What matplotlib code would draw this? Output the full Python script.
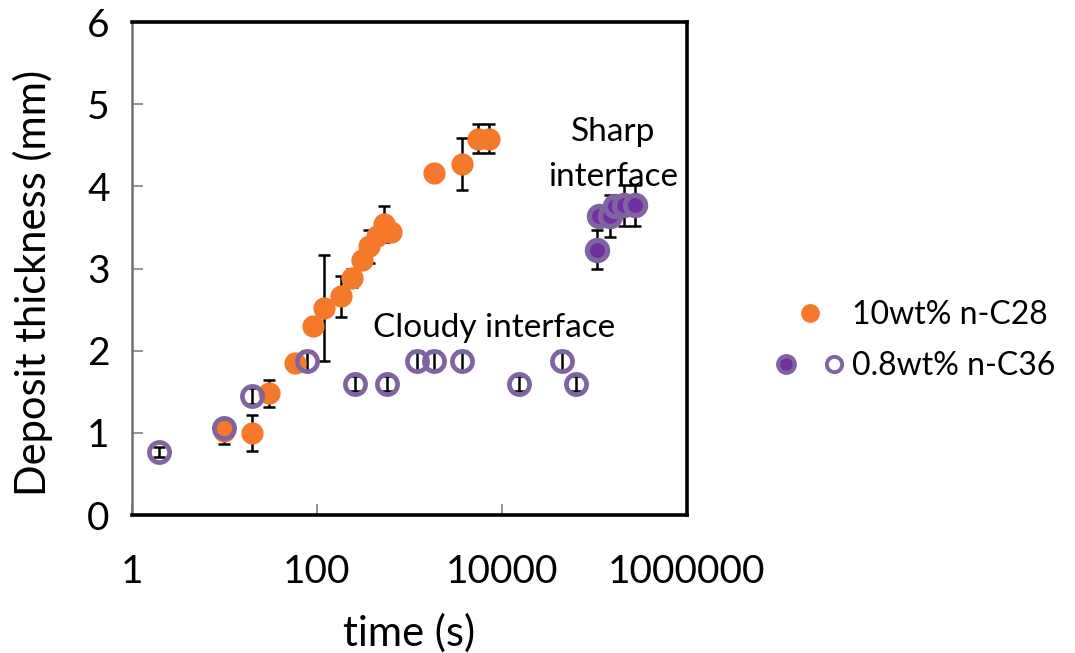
import matplotlib
matplotlib.use("Agg")
import matplotlib.pyplot as plt
from matplotlib.lines import Line2D
from matplotlib.legend_handler import HandlerTuple

plt.rcParams['font.family'] = ['Lato', 'DejaVu Sans']

# 10wt% n-C28 deposit
t_c28 = [9.8, 19.7, 30, 58.5, 90, 120, 180, 239, 307, 367, 446, 534, 626, 1827, 3656, 5510, 7260]
h_c28 = [1.02, 1.00, 1.48, 1.85, 2.30, 2.52, 2.66, 2.89, 3.10, 3.27, 3.39, 3.54, 3.45, 4.16, 4.27, 4.58, 4.58]
e_c28 = [0.15, 0.22, 0.16, 0.10, 0.0, 0.65, 0.25, 0.11, 0.0, 0.20, 0.0, 0.22, 0.0, 0.0, 0.32, 0.18, 0.18]

# 0.8wt% n-C36, cloudy interface (open markers)
t_cloudy = [1.94, 9.8, 19.7, 78.5, 257, 568, 1190, 1827, 3656, 15100, 44000, 62800]
h_cloudy = [0.77, 1.06, 1.45, 1.88, 1.60, 1.60, 1.88, 1.88, 1.88, 1.60, 1.88, 1.60]
e_cloudy = [0.06, 0.08, 0.10, 0.12, 0.09, 0.09, 0.12, 0.12, 0.12, 0.09, 0.12, 0.09]

# 0.8wt% n-C36, sharp interface (filled markers)
t_sharp = [107000, 112000, 146000, 167000, 210000, 274000]
h_sharp = [3.23, 3.64, 3.64, 3.76, 3.77, 3.77]
e_sharp = [0.24, 0.0, 0.26, 0.0, 0.25, 0.25]

x_ticks = [1, 100, 10000, 1000000]
x_ticklabels = ['1', '100', '10000', '1000000']

orange = '#F5792A'
purple_edge = '#8064A2'
purple_fill = '#7030A0'

fig = plt.figure(figsize=(10.75, 6.53), dpi=100)
ax = fig.add_axes([0.1228, 0.2113, 0.5163, 0.755])

err_kw = dict(fmt='none', ecolor='black', elinewidth=1.8, capsize=4.5, capthick=1.8, zorder=2)
ax.errorbar(t_c28, h_c28, yerr=e_c28, **err_kw)
ax.plot(t_c28, h_c28, 'o', color=orange, ms=15, mec=orange, zorder=3)

ax.errorbar(t_cloudy, h_cloudy, yerr=e_cloudy, **err_kw)
ax.plot(t_cloudy, h_cloudy, 'o', mfc='none', mec=purple_edge, ms=14.5, mew=3.4, zorder=4)

ax.errorbar(t_sharp, h_sharp, yerr=e_sharp, **err_kw)
ax.plot(t_sharp, h_sharp, 'o', mfc=purple_fill, mec=purple_edge, ms=14.5, mew=3.8, zorder=4)

ax.set_xscale('log')
ax.set_xlim(1, 1000000)
ax.set_ylim(0, 6)
ax.set_xticks(x_ticks)
ax.set_xticklabels(x_ticklabels)
ax.xaxis.set_minor_locator(matplotlib.ticker.NullLocator())
ax.set_yticks(range(7))

ax.tick_params(axis='both', direction='in', length=8, width=1.2, color='#808080',
               labelsize=28)
ax.tick_params(axis='x', pad=28)
ax.tick_params(axis='y', pad=16)

for side in ['top', 'right', 'bottom']:
    ax.spines[side].set_linewidth(2.6)
    ax.spines[side].set_color('black')
ax.spines['left'].set_linewidth(1.8)
ax.spines['left'].set_color('#707070')

ax.set_xlabel('time (s)', fontsize=30)
ax.set_ylabel('Deposit thickness (mm)', fontsize=30)
ax.xaxis.set_label_coords(0.5, -0.2)
ax.yaxis.set_label_coords(-0.142, 0.47)

ax.text(8190, 2.27, 'Cloudy interface', fontsize=24, ha='center', va='center')
ax.text(160000, 4.66, 'Sharp', fontsize=24, ha='center', va='center')
ax.text(160000, 4.11, 'interface', fontsize=24, ha='center', va='center')

h1 = Line2D([], [], ls='none', marker='o', color=orange, ms=12.5)
h2a = Line2D([], [], ls='none', marker='o', mfc=purple_fill, mec=purple_edge, ms=12, mew=3)
h2b = Line2D([], [], ls='none', marker='o', mfc='none', mec=purple_edge, ms=11, mew=2.8)
fig.legend([h1, (h2a, h2b)], ['10wt% n-C28', '0.8wt% n-C36'],
           loc='center left', bbox_to_anchor=(0.718, 0.478), frameon=False,
           fontsize=23, handlelength=2.4, handletextpad=0.1, labelspacing=0.65,
           borderpad=0, borderaxespad=0,
           handler_map={tuple: HandlerTuple(ndivide=None, pad=0.6)})

fig.savefig('out.png', dpi=100)
